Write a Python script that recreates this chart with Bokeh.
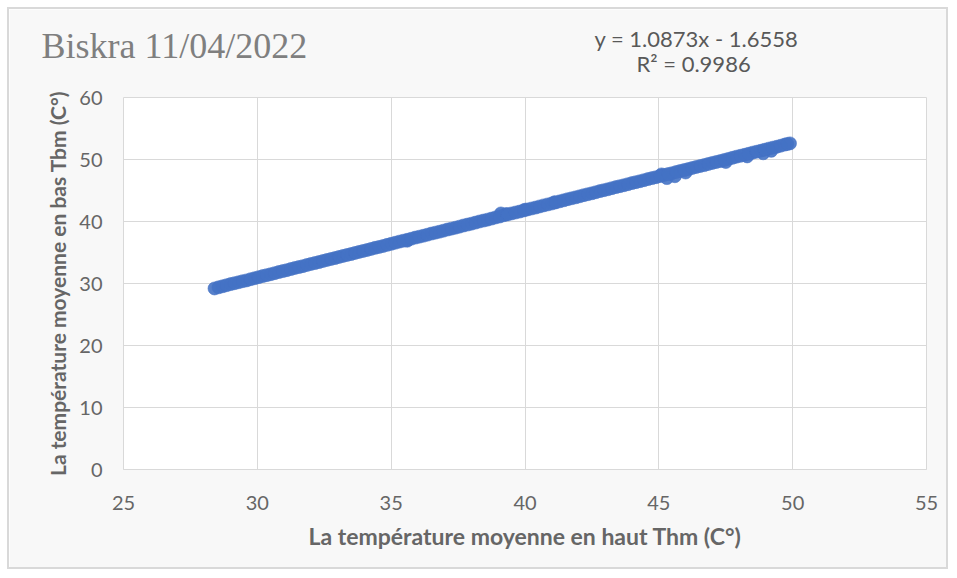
from bokeh.plotting import figure
from bokeh.models import Range1d, FixedTicker, Title
from bokeh.embed import file_html
from bokeh.resources import INLINE

# Thm (x) and Tbm (y) readings
thm = [28.4, 28.7, 29.0, 29.3, 29.6, 29.9, 30.2, 30.5, 30.8, 31.1, 31.4, 31.7,
       32.0, 32.3, 32.6, 32.9, 33.2, 33.5, 33.8, 34.1, 34.4, 34.7, 35.0, 35.3,
       35.6, 35.9, 36.2, 36.5, 36.8, 37.1, 37.4, 37.7, 38.0, 38.3, 38.6, 38.9,
       39.2, 39.5, 39.8, 40.1, 40.4, 40.7, 41.0, 41.3, 41.6, 41.9, 42.2, 42.5,
       42.8, 43.1, 43.4, 43.7, 44.0, 44.3, 44.6, 44.9, 45.2, 45.5, 45.8, 46.1,
       46.4, 46.7, 47.0, 47.3, 47.6, 47.9, 48.2, 48.5, 48.8, 49.1, 49.4, 49.7,
       49.9, 39.1, 39.3, 40.0, 45.1, 45.3, 45.6, 47.5, 48.3, 48.9, 49.2, 35.6,
       41.1, 46.0,
       28.55, 28.85, 29.15, 29.45, 29.75, 30.05, 30.35, 30.65, 30.95, 31.25,
       31.55, 31.85, 32.15, 32.45, 32.75, 33.05, 33.35, 33.65, 33.95, 34.25,
       34.55, 34.85, 35.15, 35.45, 35.75, 36.05, 36.35, 36.65, 36.95, 37.25,
       37.55, 37.85, 38.15, 38.45, 38.75, 39.05, 39.35, 39.65, 39.95, 40.25,
       40.55, 40.85, 41.15, 41.45, 41.75, 42.05, 42.35, 42.65, 42.95, 43.25,
       43.55, 43.85, 44.15, 44.45, 44.75, 45.05, 45.35, 45.65, 45.95, 46.25,
       46.55, 46.85, 47.15, 47.45, 47.75, 48.05, 48.35, 48.65, 48.95, 49.25,
       49.55, 49.8]
tbm = [29.2, 29.55, 29.9, 30.2, 30.5, 30.85, 31.2, 31.5, 31.85, 32.15, 32.5, 32.8,
       33.15, 33.45, 33.8, 34.1, 34.45, 34.75, 35.1, 35.4, 35.75, 36.05, 36.4, 36.75,
       37.05, 37.4, 37.7, 38.05, 38.35, 38.7, 39.0, 39.35, 39.65, 40.0, 40.3, 40.65,
       41.0, 41.3, 41.6, 41.95, 42.25, 42.6, 42.9, 43.25, 43.6, 43.9, 44.25, 44.55,
       44.9, 45.2, 45.55, 45.85, 46.2, 46.5, 46.85, 47.15, 47.5, 47.8, 48.15, 48.45,
       48.8, 49.1, 49.45, 49.75, 50.1, 50.45, 50.75, 51.1, 51.4, 51.75, 52.05, 52.4,
       52.6, 41.3, 41.2, 41.9, 47.6, 47.0, 47.3, 49.6, 50.5, 51.0, 51.4, 36.9,
       43.1, 47.9,
       29.38, 29.72, 30.05, 30.37, 30.69, 31.02, 31.35, 31.67, 32.0, 32.33,
       32.65, 32.98, 33.3, 33.63, 33.95, 34.28, 34.6, 34.93, 35.25, 35.58,
       35.9, 36.23, 36.57, 36.9, 37.22, 37.55, 37.87, 38.2, 38.52, 38.85,
       39.17, 39.5, 39.82, 40.15, 40.47, 40.8, 41.13, 41.45, 41.78, 42.1,
       42.43, 42.75, 43.08, 43.42, 43.75, 44.07, 44.4, 44.72, 45.05, 45.38,
       45.7, 46.02, 46.35, 46.67, 47.0, 47.33, 47.65, 47.98, 48.3, 48.63,
       48.95, 49.28, 49.6, 49.93, 50.27, 50.6, 50.92, 51.25, 51.57, 51.9,
       52.22, 52.5]

x_ticks = [25, 30, 35, 40, 45, 50, 55]
y_ticks = [0, 10, 20, 30, 40, 50, 60]

title_text = "Biskra 11/04/2022"
equation = "y = 1.0873x - 1.6558"
r2_text = "R² = 0.9986"
x_label = "La température moyenne en haut Thm (C°)"
y_label = "La température moyenne en bas Tbm (C°)"

grey = "#595959"
label_grey = "#666666"
grid = "#d9d9d9"
sans = "Lato"

p = figure(width=941, height=562, output_backend="svg", toolbar_location=None,
           title_location=None,
           x_range=Range1d(25, 55), y_range=Range1d(0, 60),
           min_border_left=114, min_border_right=24, min_border_top=88,
           min_border_bottom=102,
           background_fill_color="white", border_fill_color="#f8f8f8",
           outline_line_color=grid,
           styles={"border": "2px solid #d9d9d9", "margin": "7px 0 0 7px"})

p.scatter(thm, tbm, size=13, marker="circle", fill_color="#4472C4",
          line_color="#4472C4", fill_alpha=0.9, line_alpha=0.6)

for ax in (p.xaxis[0], p.yaxis[0]):
    ax.major_tick_line_color = None
    ax.minor_tick_line_color = None
    ax.major_label_text_font = sans
    ax.major_label_text_font_size = "20px"
    ax.major_label_text_color = label_grey
    ax.axis_label_text_font = sans
    ax.axis_label_text_font_style = "bold"
    ax.axis_label_text_color = label_grey

p.xaxis.ticker = FixedTicker(ticks=x_ticks)
p.yaxis.ticker = FixedTicker(ticks=y_ticks)
p.xaxis.axis_line_color = grid
p.yaxis.axis_line_color = None
p.xaxis.major_label_standoff = 20
p.yaxis.major_label_standoff = 15
p.xaxis.axis_label = x_label
p.yaxis.axis_label = y_label
p.xaxis.axis_label_text_font_size = "23px"
p.yaxis.axis_label_text_font_size = "21px"
p.xaxis.axis_label_standoff = 9
p.yaxis.axis_label_standoff = 6

p.xgrid.grid_line_color = grid
p.ygrid.grid_line_color = grid

# header texts, stacked above the frame (innermost first)
p.add_layout(Title(text=r2_text, align="left", offset=513, standoff=41,
                   text_font=sans, text_font_size="22px", text_font_style="normal",
                   text_color=grey), "above")
p.add_layout(Title(text=equation, align="left", offset=471, standoff=-49,
                   text_font=sans, text_font_size="22px", text_font_style="normal",
                   text_color=grey), "above")
p.add_layout(Title(text=title_text, align="left", offset=-82, standoff=-77,
                   text_font="Liberation Serif", text_font_size="36px",
                   text_font_style="normal", text_color="#7f7f7f"), "above")

open("out.html", "w").write(file_html(p, INLINE))
